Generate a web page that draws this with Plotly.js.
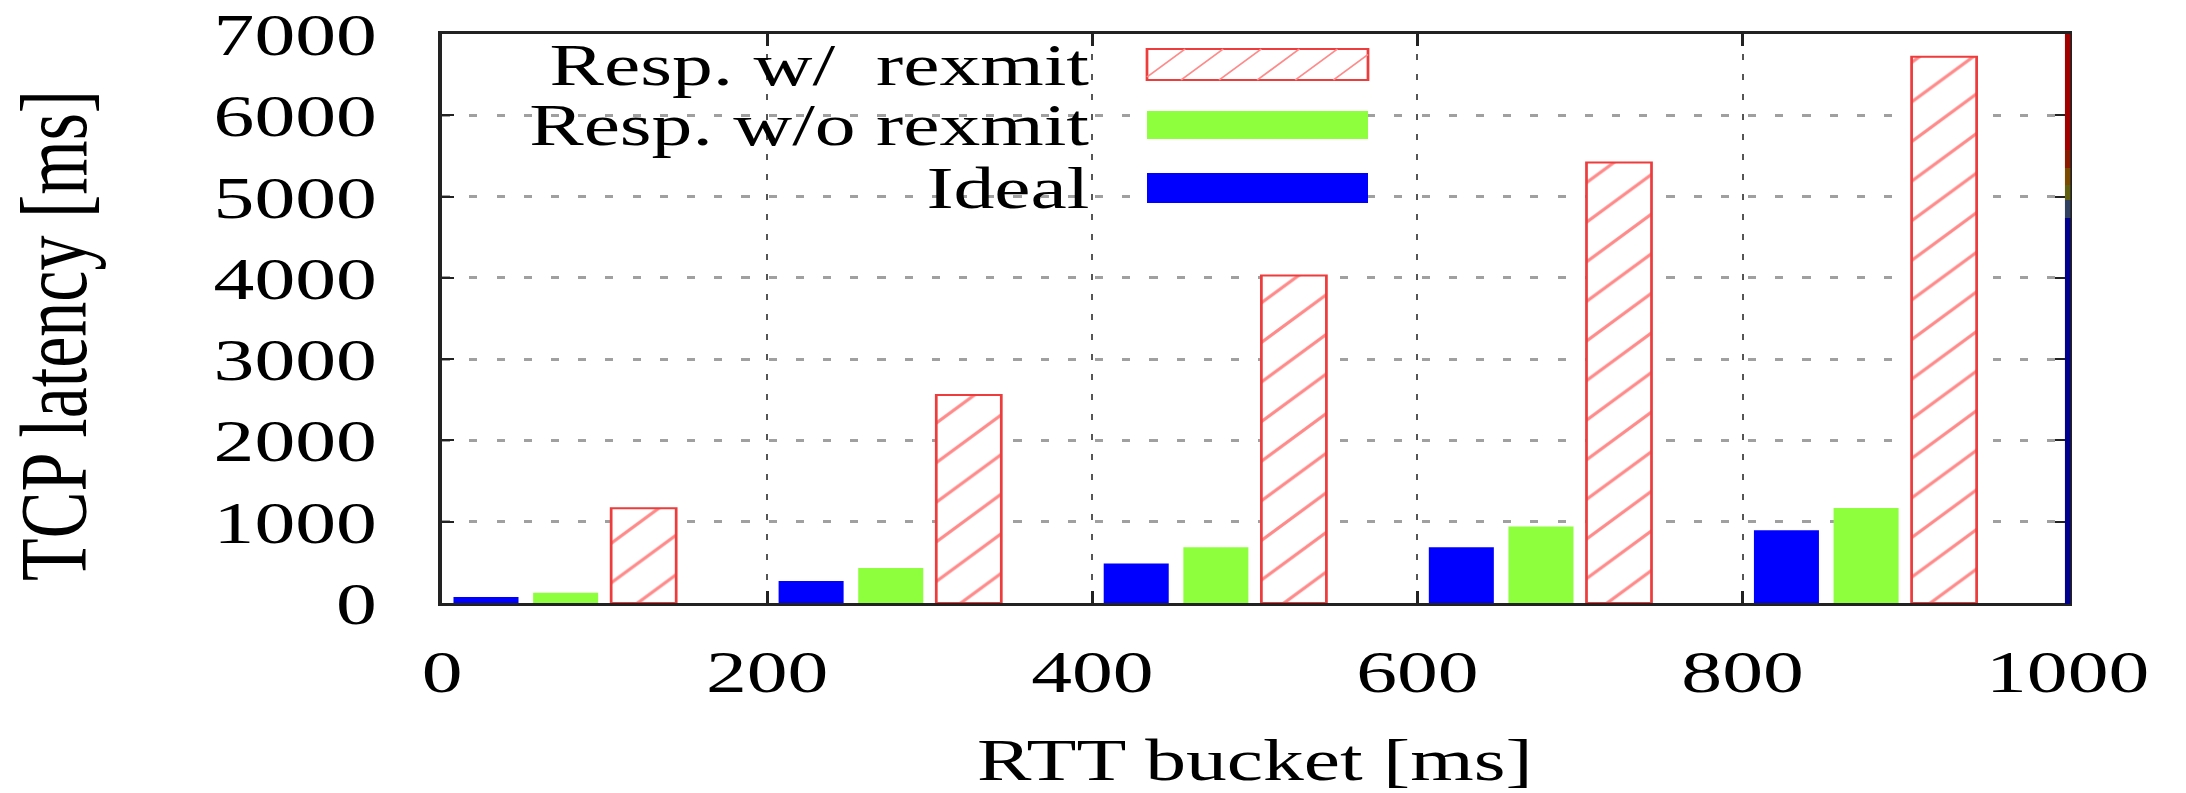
<!DOCTYPE html>
<html>
<head>
<meta charset="utf-8">
<script src="https://cdn.plot.ly/plotly-3.0.1.min.js"></script>
<style>
  html, body { margin: 0; padding: 0; overflow: hidden; background: #fff; }
  #wrap { width: 1607px; height: 793px; transform: scaleX(1.3603); transform-origin: 0 0; }
</style>
</head>
<body>
<div id="wrap"></div>
<script>
// ---- data ----
const buckets = [0, 200, 400, 600, 800];
const ideal = [75, 270, 485, 685, 895];
const respNoRexmit = [125, 430, 686, 942, 1170];
const respRexmit = [1165, 2560, 4030, 5420, 6720];
const seriesNames = ['Resp. w/\u00a0 rexmit', 'Resp. w/o rexmit', 'Ideal'];
const xTicks = [0, 200, 400, 600, 800, 1000];
const yTicks = [0, 1000, 2000, 3000, 4000, 5000, 6000, 7000];
const xTitle = 'RTT bucket [ms]';
const yTitle = 'TCP latency [ms]';

// ---- geometry helpers (inner, unstretched frame) ----
const S = 1.3603, W = 1607, H = 793;
const M = {l: 325, r: 87, t: 34, b: 190};
const PW = W - M.l - M.r, PH = H - M.t - M.b;
const px = fx => (fx / S - M.l) / PW;      // full-size x pixel -> paper
const py = fy => 1 - (fy - M.t) / PH;      // full-size y pixel -> paper

const FONT = 'Liberation Serif, Times New Roman, serif';
const RED = '#ee3b3b', REDH = '#ff8a8a', GREEN = '#8eff3c', BLUE = '#0000ff';

const traces = [
  {type: 'bar', name: seriesNames[2], x: buckets, y: ideal, width: 40, offset: 7,
   marker: {color: BLUE, line: {width: 0}}},
  {type: 'bar', name: seriesNames[1], x: buckets, y: respNoRexmit, width: 40, offset: 56,
   marker: {color: GREEN, line: {width: 0}}},
  {type: 'bar', name: seriesNames[0], x: buckets, y: respRexmit, width: 40, offset: 104,
   marker: {color: '#ffffff', line: {color: RED, width: 2},
            pattern: {shape: '/', fgcolor: REDH, bgcolor: '#ffffff', size: 28, solidity: 0.1}}}
];

const shapes = [];
const annotations = [];

// y axis title (rotated), placed like the reference
annotations.push({xref: 'paper', yref: 'paper', x: px(53), y: py(335), xanchor: 'center', yanchor: 'middle',
  textangle: -90, text: yTitle, showarrow: false, font: {family: FONT, size: 70, color: '#000'}});

// opaque key box (covers grid behind the legend like gnuplot)
shapes.push({type: 'rect', xref: 'paper', yref: 'paper', layer: 'between',
  x0: px(446), x1: px(1400), y0: py(224), y1: py(37),
  fillcolor: '#ffffff', line: {width: 0}});

// legend: right-aligned text, samples on the right
const rows = [
  {y0: 49, y1: 80, name: seriesNames[0], kind: 'hatch'},
  {y0: 111, y1: 139, name: seriesNames[1], kind: 'fill', color: GREEN},
  {y0: 173, y1: 203, name: seriesNames[2], kind: 'fill', color: BLUE}
];
const SX0 = 1147, SX1 = 1368, TXR = 1093;
rows.forEach(r => {
  const cy = (r.y0 + r.y1) / 2;
  annotations.push({xref: 'paper', yref: 'paper', x: px(TXR), y: py(cy), xanchor: 'right', yanchor: 'middle',
    text: r.name, showarrow: false, font: {family: FONT, size: 60, color: '#000'}});
  if (r.kind === 'fill') {
    shapes.push({type: 'rect', xref: 'paper', yref: 'paper', layer: 'above',
      x0: px(SX0), x1: px(SX1), y0: py(r.y1), y1: py(r.y0), fillcolor: r.color, line: {width: 0}});
  } else {
    shapes.push({type: 'rect', xref: 'paper', yref: 'paper', layer: 'above',
      x0: px(SX0), x1: px(SX1), y0: py(r.y1), y1: py(r.y0), fillcolor: '#ffffff', line: {color: RED, width: 2}});
    // hatch lines, in inner pixel space
    const X0 = SX0 / S, X1 = SX1 / S, h = r.y1 - r.y0, step = 28;
    let d = '';
    for (let x = X0 - h; x < X1; x += step) {
      const t0 = Math.max(0, X0 - x), t1 = Math.min(h, X1 - x);
      if (t1 <= t0) continue;
      const ax = x + t0, ay = r.y1 - t0, bx = x + t1, by = r.y1 - t1;
      d += `M${(ax - M.l) / PW},${py(ay)}L${(bx - M.l) / PW},${py(by)}`;
    }
    shapes.push({type: 'path', xref: 'paper', yref: 'paper', layer: 'above', path: d,
      line: {color: REDH, width: 1.5}});
  }
});

// coloured right border (gnuplot palette artifact)
const border = [
  [34, 150, '#a00000'], [150, 168, '#8a1a00'], [168, 185, '#7a4a00'],
  [185, 200, '#606010'], [200, 218, '#304060'], [218, 604, '#00008c']
];
border.forEach(b => shapes.push({type: 'line', xref: 'paper', yref: 'paper', layer: 'above',
  x0: 1, x1: 1, y0: py(b[1]), y1: py(b[0]), line: {color: b[2], width: 4}}));

const layout = {
  width: W, height: H,
  margin: M,
  paper_bgcolor: '#ffffff', plot_bgcolor: '#ffffff',
  barmode: 'overlay',
  showlegend: false,
  font: {family: FONT, size: 60, color: '#000'},
  xaxis: {
    range: [0, 1000], tickvals: xTicks, ticktext: xTicks.map(String),
    showline: true, linecolor: '#222', linewidth: 3, mirror: 'ticks',
    ticks: 'inside', ticklen: 12, tickwidth: 2, tickcolor: '#222',
    showgrid: true, gridcolor: '#555', gridwidth: 1.5, griddash: '6px,14px',
    zeroline: false, ticklabelstandoff: 14, ticklabeloverflow: 'allow',
    tickfont: {family: FONT, size: 60, color: '#000'},
    title: {text: xTitle, font: {family: FONT, size: 60, color: '#000'}, standoff: 39},
    automargin: false, fixedrange: true
  },
  yaxis: {
    range: [0, 7000], tickvals: yTicks, ticktext: yTicks.map(String),
    showline: true, linecolor: '#222', linewidth: 3, mirror: 'ticks',
    ticks: 'inside', ticklen: 9, tickwidth: 2, tickcolor: '#222',
    showgrid: true, gridcolor: '#a0a0a0', gridwidth: 3, griddash: '6px,14px',
    zeroline: false, ticklabelstandoff: 33, ticklabeloverflow: 'allow',
    tickfont: {family: FONT, size: 60, color: '#000'},
    automargin: false, fixedrange: true
  },
  shapes: shapes,
  annotations: annotations
};

Plotly.newPlot('wrap', traces, layout, {displayModeBar: false, staticPlot: true});
</script>
</body>
</html>
